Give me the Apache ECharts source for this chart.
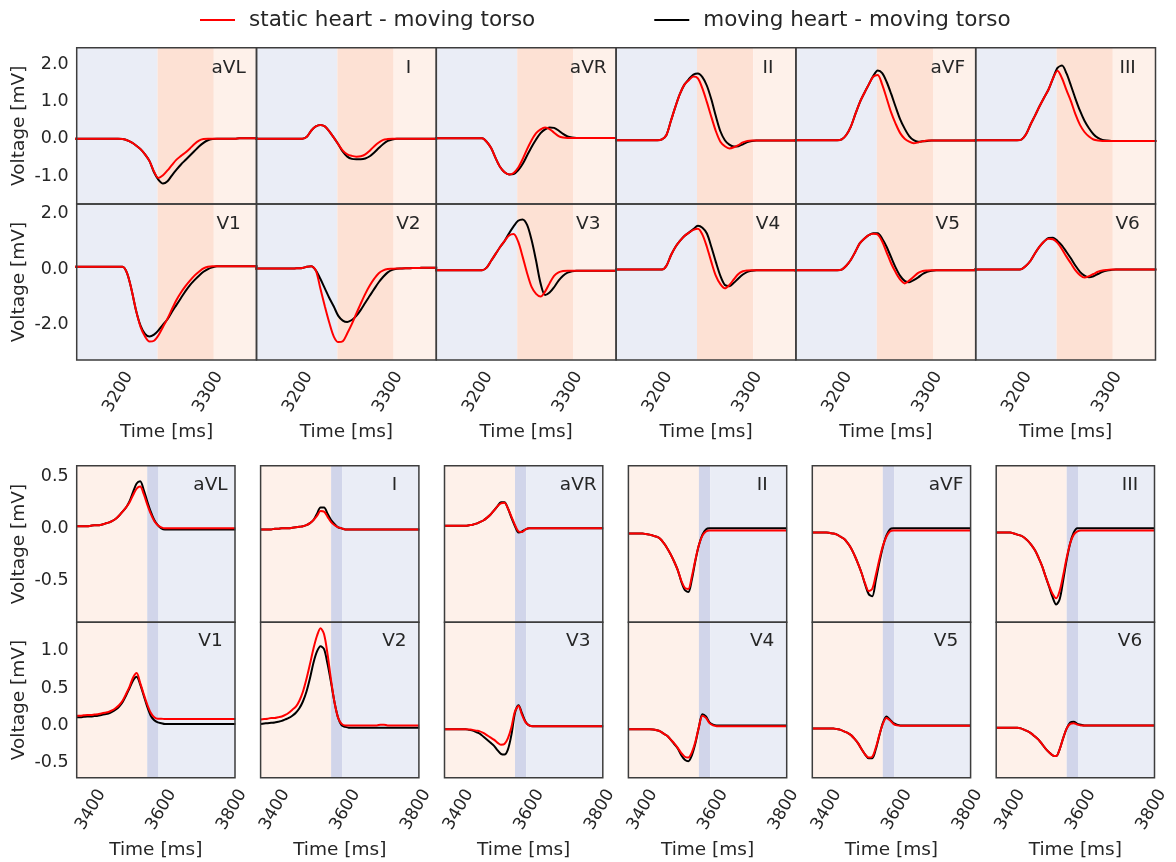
<!DOCTYPE html>
<html><head><meta charset="utf-8">
<script src="https://cdn.jsdelivr.net/npm/echarts@6/dist/echarts.min.js"></script>
<style>html,body{margin:0;padding:0;background:#fff}#c{width:1176px;height:862px}</style>
</head><body><div id="c"></div>
<script>
// ---------- DATA ----------
const timeTop = [3150,3155,3160,3165,3170,3175,3180,3185,3190,3195,3200,3205,3210,3215,3220,3225,3230,3235,3240,3245,3250,3255,3260,3265,3270,3275,3280,3285,3290,3295,3300,3305,3310,3315,3320,3325,3330,3335,3340,3345,3350,3355];
const timeBottom = [3360,3370,3380,3390,3400,3410,3420,3430,3440,3450,3460,3470,3480,3490,3500,3510,3520,3530,3540,3550,3560,3570,3580,3590,3600,3610,3620,3630,3640,3650,3660,3670,3680,3690,3700,3710,3720,3730,3740,3750,3760,3770,3780,3790,3800,3810];

const xTicksTop = [3200, 3300];
const xTicksBottom = [3400, 3600, 3800];
const yTicksTopRow1 = [-1, 0, 1, 2];
const yTicksTopRow2 = [-2, 0, 2];
const yTicksBottomRow1 = [-0.5, 0, 0.5];
const yTicksBottomRow2 = [-0.5, 0, 0.5, 1];

const bandEdgesTop = [3154, 3244, 3306.5, 3354];
const bandEdgesBottom = [3360, 3560, 3592, 3809];

const leadsRow1 = ['aVL', 'I', 'aVR', 'II', 'aVF', 'III'];
const leadsRow2 = ['V1', 'V2', 'V3', 'V4', 'V5', 'V6'];

// top section (upper panels): static heart (red) / moving heart (black)
const top_aVL_static = [0,0,0,0,0,0,0,0,0,0,0,-0.01,-0.04,-0.1,-0.18,-0.28,-0.42,-0.6,-0.88,-1.05,-0.98,-0.85,-0.7,-0.56,-0.46,-0.37,-0.26,-0.14,-0.05,-0.01,0,0,0,0,0,0,0,0.01,0.01,0.01,0.01,0.01];
const top_aVL_moving = [0,0,0,0,0,0,0,0,0,0,0,-0.01,-0.04,-0.1,-0.18,-0.28,-0.42,-0.6,-0.9,-1.1,-1.2,-1.14,-0.98,-0.83,-0.69,-0.57,-0.45,-0.33,-0.21,-0.11,-0.04,-0.01,0,0,0,0,0,0.01,0.01,0.01,0.01,0.01];
const top_I_static = [0,0,0,0,0,0,0,0,0,0,0,0,0.05,0.22,0.33,0.37,0.33,0.2,0.03,-0.15,-0.32,-0.42,-0.46,-0.48,-0.47,-0.42,-0.32,-0.2,-0.1,-0.03,-0.01,0,0,0,0,0,0,0,0,0,0,0];
const top_I_moving = [0,0,0,0,0,0,0,0,0,0,0,0,0.05,0.22,0.33,0.37,0.33,0.2,0.03,-0.15,-0.35,-0.48,-0.54,-0.55,-0.55,-0.53,-0.47,-0.37,-0.25,-0.14,-0.06,-0.02,0,0,0,0,0,0,0,0,0,0];
const top_aVR_static = [0.01,0.01,0.01,0.01,0.01,0.01,0.01,0.01,0.01,0.01,0.01,0.01,-0.08,-0.25,-0.52,-0.76,-0.9,-0.96,-0.92,-0.78,-0.55,-0.28,-0.04,0.15,0.25,0.3,0.26,0.16,0.07,0.03,0.02,0.02,0.02,0.02,0.02,0.02,0.02,0.02,0.02,0.02,0.02,0.02];
const top_aVR_moving = [0.01,0.01,0.01,0.01,0.01,0.01,0.01,0.01,0.01,0.01,0.01,0.01,-0.08,-0.25,-0.52,-0.76,-0.9,-0.96,-0.95,-0.85,-0.68,-0.45,-0.22,-0.02,0.15,0.25,0.3,0.29,0.22,0.13,0.06,0.03,0.02,0.02,0.02,0.02,0.02,0.02,0.02,0.02,0.02,0.02];
const top_II_static = [-0.04,-0.04,-0.04,-0.04,-0.04,-0.04,-0.04,-0.04,-0.04,-0.04,-0.04,-0.02,0.1,0.48,0.86,1.2,1.45,1.57,1.67,1.62,1.35,0.98,0.58,0.2,-0.08,-0.2,-0.26,-0.23,-0.17,-0.1,-0.06,-0.05,-0.05,-0.05,-0.05,-0.05,-0.05,-0.05,-0.05,-0.05,-0.05,-0.05];
const top_II_moving = [-0.04,-0.04,-0.04,-0.04,-0.04,-0.04,-0.04,-0.04,-0.04,-0.04,-0.04,-0.02,0.1,0.48,0.86,1.2,1.45,1.6,1.72,1.75,1.65,1.42,1.05,0.6,0.2,-0.04,-0.16,-0.21,-0.2,-0.15,-0.09,-0.06,-0.05,-0.05,-0.05,-0.05,-0.05,-0.05,-0.05,-0.05,-0.05,-0.05];
const top_aVF_static = [-0.04,-0.04,-0.04,-0.04,-0.04,-0.04,-0.04,-0.04,-0.04,-0.04,-0.04,-0.02,0.1,0.32,0.65,0.97,1.22,1.45,1.66,1.71,1.45,1.08,0.7,0.4,0.15,0,-0.08,-0.12,-0.1,-0.07,-0.05,-0.05,-0.05,-0.05,-0.05,-0.05,-0.05,-0.05,-0.05,-0.05,-0.05,-0.05];
const top_aVF_moving = [-0.04,-0.04,-0.04,-0.04,-0.04,-0.04,-0.04,-0.04,-0.04,-0.04,-0.04,-0.02,0.1,0.32,0.65,0.97,1.22,1.45,1.68,1.83,1.76,1.52,1.2,0.85,0.52,0.27,0.07,-0.04,-0.08,-0.07,-0.06,-0.05,-0.05,-0.05,-0.05,-0.05,-0.05,-0.05,-0.05,-0.05,-0.05,-0.05];
const top_III_static = [-0.04,-0.04,-0.04,-0.04,-0.04,-0.04,-0.04,-0.04,-0.04,-0.04,-0.04,-0.02,0.12,0.38,0.62,0.87,1.1,1.32,1.62,1.82,1.62,1.3,1.0,0.65,0.37,0.18,0.06,-0.02,-0.05,-0.06,-0.06,-0.06,-0.06,-0.06,-0.06,-0.06,-0.06,-0.06,-0.06,-0.06,-0.06,-0.06];
const top_III_moving = [-0.04,-0.04,-0.04,-0.04,-0.04,-0.04,-0.04,-0.04,-0.04,-0.04,-0.04,-0.02,0.12,0.38,0.62,0.87,1.1,1.32,1.62,1.9,1.96,1.75,1.42,1.07,0.75,0.48,0.28,0.12,0.02,-0.03,-0.05,-0.06,-0.06,-0.06,-0.06,-0.06,-0.06,-0.06,-0.06,-0.06,-0.06,-0.06];
const top_V1_static = [0.08,0.08,0.08,0.08,0.08,0.08,0.08,0.08,0.08,0.08,0.08,0.08,-0.15,-0.75,-1.5,-2.1,-2.45,-2.63,-2.6,-2.4,-2.1,-1.8,-1.45,-1.12,-0.85,-0.62,-0.42,-0.24,-0.1,0.02,0.08,0.1,0.1,0.1,0.1,0.1,0.1,0.1,0.1,0.1,0.1,0.1];
const top_V1_moving = [0.08,0.08,0.08,0.08,0.08,0.08,0.08,0.08,0.08,0.08,0.08,0.08,-0.15,-0.75,-1.5,-2.05,-2.35,-2.45,-2.38,-2.22,-2.02,-1.82,-1.55,-1.3,-1.05,-0.8,-0.58,-0.4,-0.24,-0.1,0,0.06,0.1,0.1,0.1,0.1,0.1,0.1,0.1,0.1,0.1,0.1];
const top_V2_static = [0.02,0.02,0.02,0.02,0.02,0.02,0.02,0.02,0.02,0.02,0.03,0.04,0.08,0.1,-0.05,-0.7,-1.35,-1.95,-2.45,-2.65,-2.62,-2.33,-2.0,-1.62,-1.25,-0.9,-0.6,-0.35,-0.15,-0.05,0,0.01,0.02,0.02,0.03,0.03,0.04,0.04,0.05,0.05,0.05,0.05];
const top_V2_moving = [0.02,0.02,0.02,0.02,0.02,0.02,0.02,0.02,0.02,0.02,0.03,0.04,0.08,0.1,-0.05,-0.35,-0.7,-1.05,-1.36,-1.7,-1.87,-1.92,-1.85,-1.7,-1.48,-1.22,-0.97,-0.72,-0.48,-0.28,-0.12,-0.03,0.01,0.02,0.03,0.03,0.04,0.04,0.05,0.05,0.05,0.05];
const top_V3_static = [-0.04,-0.04,-0.04,-0.04,-0.04,-0.04,-0.04,-0.04,-0.04,-0.04,-0.04,-0.04,0.05,0.3,0.55,0.8,1.02,1.22,1.27,1.0,0.45,-0.15,-0.65,-0.9,-1.0,-0.82,-0.52,-0.25,-0.12,-0.07,-0.06,-0.06,-0.06,-0.06,-0.06,-0.06,-0.06,-0.06,-0.06,-0.06,-0.06,-0.06];
const top_V3_moving = [-0.04,-0.04,-0.04,-0.04,-0.04,-0.04,-0.04,-0.04,-0.04,-0.04,-0.04,-0.04,0.05,0.3,0.55,0.8,1.02,1.3,1.55,1.75,1.8,1.6,1.05,0.3,-0.52,-0.94,-0.85,-0.66,-0.42,-0.24,-0.13,-0.08,-0.06,-0.06,-0.06,-0.06,-0.06,-0.06,-0.06,-0.06,-0.06,-0.06];
const top_V4_static = [-0.02,-0.02,-0.02,-0.02,-0.02,-0.02,-0.02,-0.02,-0.02,-0.02,-0.02,-0.02,0.12,0.5,0.8,1.02,1.2,1.32,1.42,1.46,1.25,0.8,0.25,-0.25,-0.55,-0.7,-0.58,-0.37,-0.18,-0.08,-0.05,-0.04,-0.04,-0.04,-0.04,-0.04,-0.04,-0.04,-0.04,-0.04,-0.04,-0.04];
const top_V4_moving = [-0.02,-0.02,-0.02,-0.02,-0.02,-0.02,-0.02,-0.02,-0.02,-0.02,-0.02,-0.02,0.12,0.5,0.8,1.02,1.2,1.32,1.45,1.57,1.5,1.29,0.8,0.25,-0.25,-0.58,-0.62,-0.5,-0.34,-0.2,-0.1,-0.06,-0.04,-0.04,-0.04,-0.04,-0.04,-0.04,-0.04,-0.04,-0.04,-0.04];
const top_V5_static = [-0.04,-0.04,-0.04,-0.04,-0.04,-0.04,-0.04,-0.04,-0.04,-0.04,-0.04,-0.02,0.12,0.33,0.62,0.93,1.1,1.23,1.28,1.25,1.0,0.6,0.2,-0.12,-0.38,-0.52,-0.42,-0.28,-0.14,-0.07,-0.05,-0.04,-0.04,-0.04,-0.04,-0.04,-0.04,-0.04,-0.04,-0.04,-0.04,-0.04];
const top_V5_moving = [-0.04,-0.04,-0.04,-0.04,-0.04,-0.04,-0.04,-0.04,-0.04,-0.04,-0.04,-0.02,0.12,0.33,0.62,0.93,1.1,1.23,1.3,1.3,1.1,0.8,0.42,0.05,-0.25,-0.43,-0.48,-0.4,-0.3,-0.18,-0.1,-0.06,-0.04,-0.04,-0.04,-0.04,-0.04,-0.04,-0.04,-0.04,-0.04,-0.04];
const top_V6_static = [-0.02,-0.02,-0.02,-0.02,-0.02,-0.02,-0.02,-0.02,-0.02,-0.02,-0.02,0,0.12,0.3,0.57,0.81,1.0,1.1,1.08,0.95,0.72,0.45,0.2,-0.05,-0.22,-0.31,-0.26,-0.18,-0.1,-0.05,-0.03,-0.02,-0.02,-0.02,-0.02,-0.02,-0.02,-0.02,-0.02,-0.02,-0.02,-0.02];
const top_V6_moving = [-0.02,-0.02,-0.02,-0.02,-0.02,-0.02,-0.02,-0.02,-0.02,-0.02,-0.02,0,0.12,0.3,0.57,0.81,1.0,1.13,1.14,1.02,0.85,0.62,0.38,0.12,-0.1,-0.24,-0.3,-0.26,-0.18,-0.1,-0.05,-0.03,-0.02,-0.02,-0.02,-0.02,-0.02,-0.02,-0.02,-0.02,-0.02,-0.02];

// bottom section (lower panels)
const bot_aVL_static = [0.02,0.02,0.02,0.02,0.025,0.03,0.03,0.035,0.045,0.055,0.07,0.09,0.12,0.16,0.2,0.25,0.32,0.38,0.4,0.33,0.23,0.14,0.07,0.03,0.01,0,0,0,0,0,0,0,0,0,0,0,0,0,0,0,0,0,0,0,0,0];
const bot_aVL_moving = [0.02,0.02,0.02,0.02,0.025,0.03,0.03,0.035,0.045,0.055,0.07,0.09,0.12,0.16,0.2,0.26,0.35,0.43,0.45,0.37,0.26,0.16,0.08,0.03,0,-0.01,-0.01,-0.01,-0.01,-0.01,-0.01,-0.01,-0.01,-0.01,-0.01,-0.01,-0.01,-0.01,-0.01,-0.01,-0.01,-0.01,-0.01,-0.01,-0.01,-0.01];
const bot_I_static = [-0.01,-0.01,-0.01,-0.01,-0.005,-0.005,0,0,0,0.005,0.01,0.015,0.02,0.03,0.05,0.08,0.12,0.165,0.16,0.11,0.06,0.03,0.01,0,-0.01,-0.01,-0.01,-0.01,-0.01,-0.01,-0.01,-0.01,-0.01,-0.01,-0.01,-0.01,-0.01,-0.01,-0.01,-0.01,-0.01,-0.01,-0.01,-0.01,-0.01,-0.01];
const bot_I_moving = [-0.01,-0.01,-0.01,-0.01,-0.005,-0.005,0,0,0,0.005,0.01,0.015,0.02,0.03,0.05,0.08,0.14,0.2,0.2,0.14,0.08,0.04,0.01,0,-0.01,-0.01,-0.01,-0.01,-0.01,-0.01,-0.01,-0.01,-0.01,-0.01,-0.01,-0.01,-0.01,-0.01,-0.01,-0.01,-0.01,-0.01,-0.01,-0.01,-0.01,-0.01];
const bot_aVR_static = [0.025,0.025,0.025,0.025,0.025,0.025,0.025,0.03,0.035,0.045,0.06,0.075,0.1,0.13,0.17,0.21,0.24,0.245,0.19,0.11,0.03,-0.03,-0.035,-0.01,0,0,0,0,0,0,0,0,0,0,0,0,0,0,0,0,0,0,0,0,0,0];
const bot_aVR_moving = [0.025,0.025,0.025,0.025,0.025,0.025,0.025,0.03,0.035,0.045,0.06,0.075,0.1,0.13,0.17,0.21,0.25,0.25,0.19,0.1,0.02,-0.04,-0.03,-0.01,0,0,0,0,0,0,0,0,0,0,0,0,0,0,0,0,0,0,0,0,0,0];
const bot_II_static = [-0.05,-0.05,-0.05,-0.05,-0.05,-0.055,-0.06,-0.07,-0.08,-0.1,-0.14,-0.19,-0.25,-0.32,-0.4,-0.5,-0.57,-0.58,-0.46,-0.3,-0.16,-0.07,-0.03,-0.02,-0.02,-0.02,-0.02,-0.02,-0.02,-0.02,-0.02,-0.02,-0.02,-0.02,-0.02,-0.02,-0.02,-0.02,-0.02,-0.02,-0.02,-0.02,-0.02,-0.02,-0.02,-0.02];
const bot_II_moving = [-0.05,-0.05,-0.05,-0.05,-0.05,-0.055,-0.06,-0.07,-0.08,-0.1,-0.14,-0.19,-0.25,-0.32,-0.4,-0.51,-0.59,-0.61,-0.49,-0.31,-0.16,-0.06,-0.01,0,0,0,0,0,0,0,0,0,0,0,0,0,0,0,0,0,0,0,0,0,0,0];
const bot_aVF_static = [-0.04,-0.04,-0.04,-0.04,-0.04,-0.045,-0.05,-0.06,-0.08,-0.1,-0.14,-0.19,-0.26,-0.34,-0.43,-0.53,-0.6,-0.58,-0.45,-0.3,-0.17,-0.08,-0.03,-0.02,-0.02,-0.02,-0.02,-0.02,-0.02,-0.02,-0.02,-0.02,-0.02,-0.02,-0.02,-0.02,-0.02,-0.02,-0.02,-0.02,-0.02,-0.02,-0.02,-0.02,-0.02,-0.02];
const bot_aVF_moving = [-0.04,-0.04,-0.04,-0.04,-0.04,-0.045,-0.05,-0.06,-0.08,-0.1,-0.14,-0.19,-0.26,-0.34,-0.43,-0.54,-0.63,-0.65,-0.5,-0.33,-0.18,-0.07,-0.01,0,0,0,0,0,0,0,0,0,0,0,0,0,0,0,0,0,0,0,0,0,0,0];
const bot_III_static = [-0.04,-0.04,-0.04,-0.04,-0.04,-0.05,-0.06,-0.07,-0.09,-0.12,-0.16,-0.21,-0.28,-0.36,-0.46,-0.55,-0.63,-0.67,-0.6,-0.45,-0.28,-0.14,-0.06,-0.03,-0.02,-0.02,-0.02,-0.02,-0.02,-0.02,-0.02,-0.02,-0.02,-0.02,-0.02,-0.02,-0.02,-0.02,-0.02,-0.02,-0.02,-0.02,-0.02,-0.02,-0.02,-0.02];
const bot_III_moving = [-0.04,-0.04,-0.04,-0.04,-0.04,-0.05,-0.06,-0.07,-0.09,-0.12,-0.16,-0.21,-0.28,-0.36,-0.46,-0.56,-0.66,-0.73,-0.68,-0.5,-0.3,-0.14,-0.04,0,0,0,0,0,0,0,0,0,0,0,0,0,0,0,0,0,0,0,0,0,0,0];
const bot_V1_static = [0.13,0.13,0.135,0.14,0.14,0.145,0.15,0.16,0.17,0.18,0.2,0.23,0.27,0.33,0.42,0.52,0.64,0.7,0.57,0.42,0.28,0.17,0.11,0.09,0.09,0.085,0.085,0.085,0.085,0.085,0.085,0.085,0.085,0.085,0.085,0.085,0.085,0.085,0.085,0.085,0.085,0.085,0.085,0.085,0.085,0.085];
const bot_V1_moving = [0.11,0.11,0.115,0.12,0.12,0.125,0.13,0.14,0.15,0.16,0.18,0.21,0.25,0.31,0.4,0.5,0.6,0.65,0.55,0.4,0.25,0.13,0.07,0.04,0.03,0.02,0.02,0.02,0.02,0.02,0.02,0.02,0.02,0.02,0.02,0.02,0.02,0.02,0.02,0.02,0.02,0.02,0.02,0.02,0.02,0.02];
const bot_V2_static = [0.08,0.085,0.09,0.1,0.1,0.11,0.12,0.14,0.17,0.21,0.25,0.33,0.45,0.62,0.82,1.03,1.2,1.3,1.22,0.95,0.6,0.3,0.1,0.02,0,0,0,0,0,0,0,0,0,0,0.01,0.01,0,0,0,0,0,0,0,0,0,0];
const bot_V2_moving = [0.02,0.025,0.03,0.035,0.04,0.05,0.06,0.08,0.1,0.13,0.17,0.23,0.32,0.45,0.63,0.84,0.99,1.06,1.02,0.82,0.57,0.3,0.1,0,-0.02,-0.03,-0.03,-0.03,-0.03,-0.03,-0.03,-0.03,-0.03,-0.03,-0.03,-0.03,-0.03,-0.03,-0.03,-0.03,-0.03,-0.03,-0.03,-0.03,-0.03,-0.03];
const bot_V3_static = [-0.05,-0.05,-0.05,-0.05,-0.05,-0.05,-0.05,-0.055,-0.06,-0.07,-0.08,-0.1,-0.13,-0.16,-0.19,-0.23,-0.26,-0.25,-0.17,-0.02,0.19,0.26,0.14,0.04,0,-0.01,-0.01,-0.01,-0.01,-0.01,-0.01,-0.01,-0.01,-0.01,-0.01,-0.01,-0.01,-0.01,-0.01,-0.01,-0.01,-0.01,-0.01,-0.01,-0.01,-0.01];
const bot_V3_moving = [-0.05,-0.05,-0.05,-0.05,-0.05,-0.05,-0.05,-0.06,-0.07,-0.09,-0.11,-0.15,-0.19,-0.23,-0.27,-0.33,-0.38,-0.39,-0.32,-0.12,0.17,0.27,0.16,0.05,0,-0.01,-0.01,-0.01,-0.01,-0.01,-0.01,-0.01,-0.01,-0.01,-0.01,-0.01,-0.01,-0.01,-0.01,-0.01,-0.01,-0.01,-0.01,-0.01,-0.01,-0.01];
const bot_V4_static = [-0.05,-0.05,-0.05,-0.05,-0.05,-0.05,-0.05,-0.055,-0.065,-0.08,-0.11,-0.14,-0.19,-0.24,-0.3,-0.37,-0.42,-0.43,-0.36,-0.22,-0.02,0.13,0.1,0.03,0,-0.01,-0.01,-0.01,-0.01,-0.01,-0.01,-0.01,-0.01,-0.01,-0.01,-0.01,-0.01,-0.01,-0.01,-0.01,-0.01,-0.01,-0.01,-0.01,-0.01,-0.01];
const bot_V4_moving = [-0.05,-0.05,-0.05,-0.05,-0.05,-0.05,-0.05,-0.055,-0.065,-0.08,-0.11,-0.14,-0.19,-0.25,-0.31,-0.4,-0.46,-0.48,-0.4,-0.24,-0.02,0.15,0.12,0.04,0.01,0,0,0,0,0,0,0,0,0,0,0,0,0,0,0,0,0,0,0,0,0];
const bot_V5_static = [-0.04,-0.04,-0.04,-0.04,-0.04,-0.04,-0.04,-0.05,-0.06,-0.08,-0.1,-0.13,-0.18,-0.24,-0.32,-0.39,-0.43,-0.42,-0.3,-0.13,0.02,0.1,0.07,0.02,0,-0.005,-0.005,-0.005,-0.005,-0.005,-0.005,-0.005,-0.005,-0.005,-0.005,-0.005,-0.005,-0.005,-0.005,-0.005,-0.005,-0.005,-0.005,-0.005,-0.005,-0.005];
const bot_V5_moving = [-0.04,-0.04,-0.04,-0.04,-0.04,-0.04,-0.04,-0.05,-0.06,-0.08,-0.1,-0.13,-0.18,-0.24,-0.32,-0.39,-0.44,-0.44,-0.32,-0.14,0.03,0.12,0.08,0.03,0.01,0,0,0,0,0,0,0,0,0,0,0,0,0,0,0,0,0,0,0,0,0];
const bot_V6_static = [-0.03,-0.03,-0.03,-0.03,-0.03,-0.03,-0.03,-0.04,-0.06,-0.08,-0.11,-0.15,-0.19,-0.25,-0.31,-0.36,-0.4,-0.41,-0.32,-0.17,-0.04,0.02,0.03,0.01,0,0,0,0,0,0,0,0,0,0,0,0,0,0,0,0,0,0,0,0,0,0];
const bot_V6_moving = [-0.03,-0.03,-0.03,-0.03,-0.03,-0.03,-0.03,-0.04,-0.06,-0.08,-0.11,-0.15,-0.19,-0.25,-0.31,-0.36,-0.4,-0.41,-0.32,-0.17,-0.04,0.04,0.05,0.02,0.01,0,0,0,0,0,0,0,0,0,0,0,0,0,0,0,0,0,0,0,0,0];

const nameStatic = 'static heart - moving torso';
const nameMoving = 'moving heart - moving torso';

// ---------- LAYOUT / STYLE ----------
const FONT = 'DejaVu Sans';
const TXT = '#262626';
const C_BLUE = '#eaedf6', C_SALMON = '#fde1d4', C_PEACH = '#fef1ea', C_LAV = '#d1d5ea';

const sections = [
  {
    time: timeTop, xMin: 3154, xMax: 3354, xTicks: xTicksTop,
    left0: 76.7, step: 179.8, width: 179.8,
    rows: [{top: 47.7, h: 156.3, yMin: -1.75, yMax: 2.44, yTicks: yTicksTopRow1},
           {top: 204, h: 156, yMin: -3.3, yMax: 2.36, yTicks: yTicksTopRow2}],
    bandEdges: bandEdgesTop, bandColors: [C_BLUE, C_SALMON, C_PEACH],
    labelDy: 20,
    data: {
      aVL: [top_aVL_static, top_aVL_moving], I: [top_I_static, top_I_moving], aVR: [top_aVR_static, top_aVR_moving],
      II: [top_II_static, top_II_moving], aVF: [top_aVF_static, top_aVF_moving], III: [top_III_static, top_III_moving],
      V1: [top_V1_static, top_V1_moving], V2: [top_V2_static, top_V2_moving], V3: [top_V3_static, top_V3_moving],
      V4: [top_V4_static, top_V4_moving], V5: [top_V5_static, top_V5_moving], V6: [top_V6_static, top_V6_moving]
    }
  },
  {
    time: timeBottom, xMin: 3360, xMax: 3809, xTicks: xTicksBottom,
    left0: 76.7, step: 183.9, width: 158.3,
    rows: [{top: 465.7, h: 156.6, yMin: -0.9, yMax: 0.6, yTicks: yTicksBottomRow1},
           {top: 622.3, h: 155.4, yMin: -0.7, yMax: 1.38, yTicks: yTicksBottomRow2}],
    bandEdges: bandEdgesBottom, bandColors: [C_PEACH, C_LAV, C_BLUE],
    labelDy: 19,
    data: {
      aVL: [bot_aVL_static, bot_aVL_moving], I: [bot_I_static, bot_I_moving], aVR: [bot_aVR_static, bot_aVR_moving],
      II: [bot_II_static, bot_II_moving], aVF: [bot_aVF_static, bot_aVF_moving], III: [bot_III_static, bot_III_moving],
      V1: [bot_V1_static, bot_V1_moving], V2: [bot_V2_static, bot_V2_moving], V3: [bot_V3_static, bot_V3_moving],
      V4: [bot_V4_static, bot_V4_moving], V5: [bot_V5_static, bot_V5_moving], V6: [bot_V6_static, bot_V6_moving]
    }
  }
];

const grid = [], xAxis = [], yAxis = [], series = [], title = [];
let gi = 0;
sections.forEach(sec => {
  [leadsRow1, leadsRow2].forEach((leads, r) => {
    const row = sec.rows[r];
    leads.forEach((lead, c) => {
      const left = sec.left0 + c * sec.step;
      grid.push({left: left, top: row.top, width: sec.width, height: row.h, show: true,
        backgroundColor: 'transparent', borderColor: '#3d3d3d', borderWidth: 1.5, z: 5,
        containLabel: false, outerBoundsMode: 'none'});
      const bottomRow = r === 1;
      xAxis.push({type: 'value', gridIndex: gi, min: sec.xMin, max: sec.xMax,
        axisLine: {show: false}, axisTick: {show: false}, splitLine: {show: false},
        axisLabel: {show: bottomRow, customValues: sec.xTicks, formatter: v => String(v),
          rotate: 60, align: 'center', verticalAlign: 'middle',
          margin: 32, fontSize: 17, fontFamily: FONT, color: TXT},
        name: bottomRow ? 'Time [ms]' : '', nameLocation: 'middle', nameGap: 63,
        nameTextStyle: {fontSize: 18.5, fontFamily: FONT, color: TXT}});
      yAxis.push({type: 'value', gridIndex: gi, min: row.yMin, max: row.yMax,
        axisLine: {show: false}, axisTick: {show: false}, splitLine: {show: false},
        axisLabel: {show: c === 0, customValues: row.yTicks, formatter: v => v.toFixed(1),
          margin: 8, fontSize: 17.5, fontFamily: FONT, color: TXT},
        name: c === 0 ? 'Voltage [mV]' : '', nameLocation: 'middle', nameGap: 48,
        nameTextStyle: {fontSize: 18.5, fontFamily: FONT, color: TXT}});
      const [stat, mov] = sec.data[lead];
      const areas = [];
      for (let k = 0; k < sec.bandColors.length; k++) {
        areas.push([{xAxis: sec.bandEdges[k], itemStyle: {color: sec.bandColors[k], opacity: 1}}, {xAxis: sec.bandEdges[k + 1]}]);
      }
      series.push({type: 'line', name: nameMoving, xAxisIndex: gi, yAxisIndex: gi,
        data: sec.time.map((t, i) => [t, mov[i]]), showSymbol: false, smooth: 0.3,
        color: '#000000', lineStyle: {color: '#000000', width: 2}, itemStyle: {color: '#000000'},
        markArea: {silent: true, data: areas, label: {show: false}}, z: 2});
      series.push({type: 'line', name: nameStatic, xAxisIndex: gi, yAxisIndex: gi,
        data: sec.time.map((t, i) => [t, stat[i]]), showSymbol: false, smooth: 0.3,
        color: '#ff0000', lineStyle: {color: '#ff0000', width: 2}, itemStyle: {color: '#ff0000'}, z: 3});
      title.push({text: lead, left: left + 0.845 * sec.width, top: row.top + sec.labelDy,
        textAlign: 'center', textVerticalAlign: 'middle', padding: 0,
        textStyle: {fontSize: 18.5, fontWeight: 'normal', fontFamily: FONT, color: TXT}});
      gi++;
    });
  });
});

const chart = echarts.init(document.getElementById('c'), null, {renderer: 'canvas'});
chart.setOption({
  animation: false,
  backgroundColor: '#ffffff',
  title: title,
  legend: {top: 9, left: 200, padding: 0, itemWidth: 35, itemHeight: 2, icon: 'rect', itemGap: 119,
    data: [nameStatic, nameMoving], selectedMode: false,
    textStyle: {fontSize: 21.5, fontFamily: FONT, color: TXT, padding: [0, 0, 0, 9]}},
  grid: grid, xAxis: xAxis, yAxis: yAxis, series: series
});
</script>
</body></html>
